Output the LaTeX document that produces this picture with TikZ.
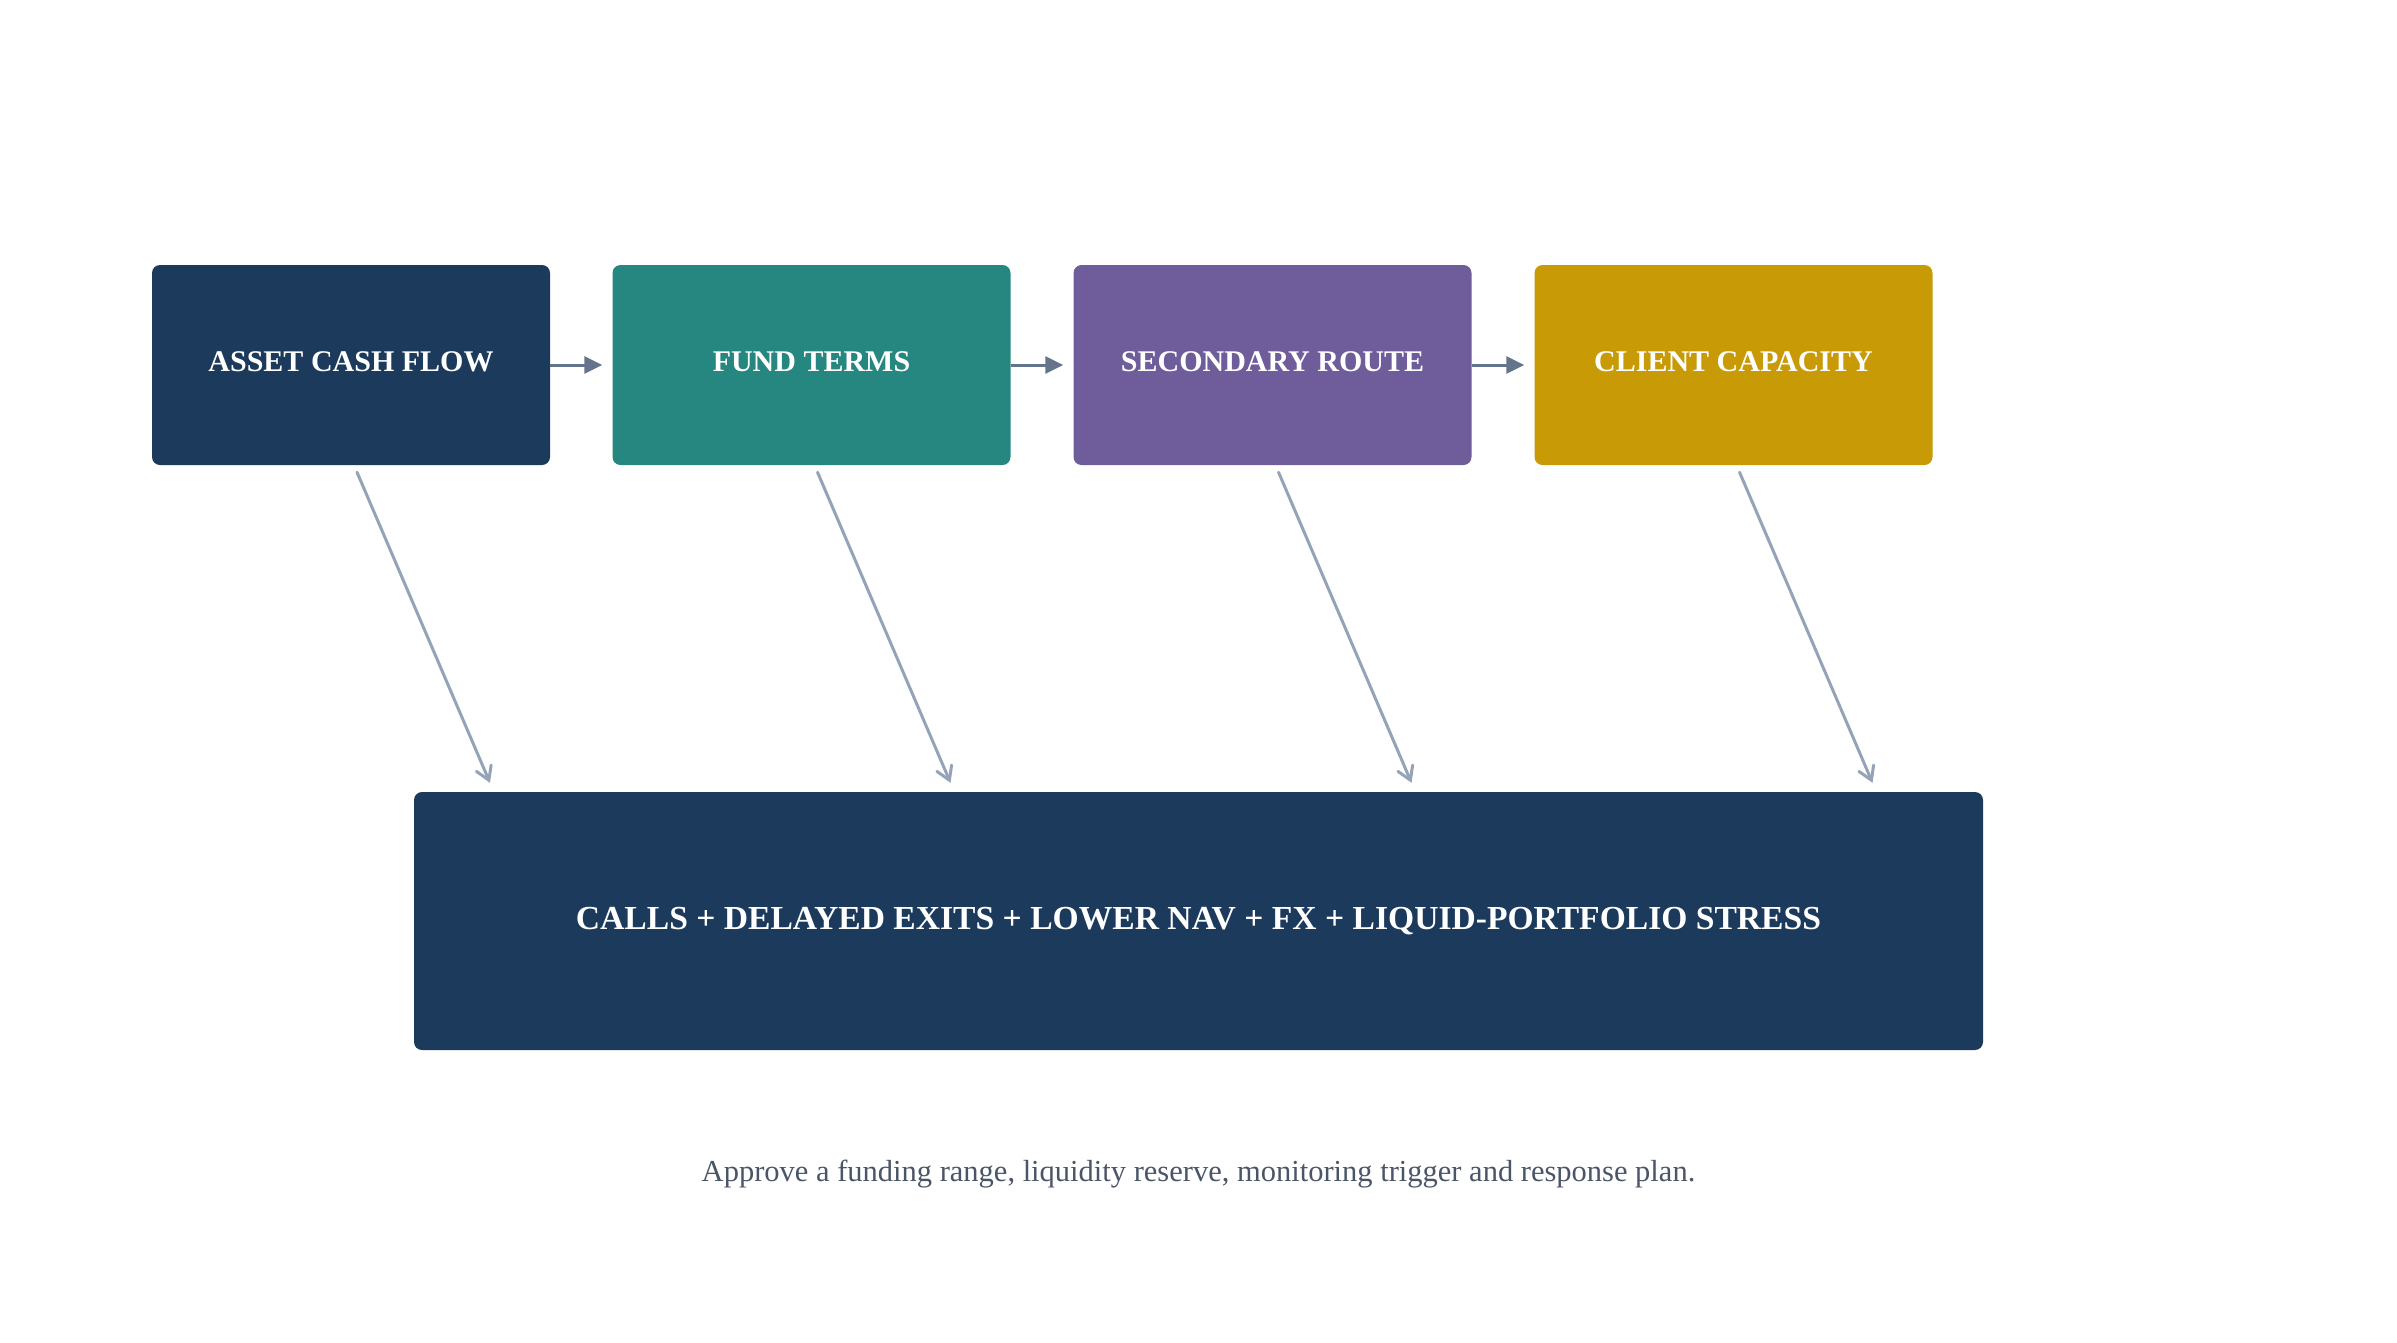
\documentclass[tikz,border=0pt]{standalone}
\usepackage{fontspec}
\setmainfont{Liberation Serif}
\usetikzlibrary{arrows.meta,calc}
\definecolor{navy}{HTML}{1B3A5C}
\definecolor{teal2}{HTML}{268680}
\definecolor{purple2}{HTML}{6F5C9A}
\definecolor{gold2}{HTML}{C89A06}
\definecolor{flowarrow}{HTML}{64748B}
\definecolor{linkarrow}{HTML}{94A3B8}
\definecolor{captioncol}{HTML}{4A5568}
\tikzset{
  stagebox/.style={rectangle, rounded corners=8pt, minimum width=398pt, minimum height=200pt,
    inner sep=0pt, text=white, text depth=6pt, font=\fontsize{30}{36}\selectfont\bfseries},
  resultbox/.style={rectangle, rounded corners=8pt, minimum width=1569pt, minimum height=258pt,
    inner sep=0pt, fill=navy, text=white, text depth=6pt, font=\fontsize{33.6}{40}\selectfont\bfseries},
  flow/.style={draw=flowarrow, line width=3pt, -{Triangle[length=18pt,width=17pt]}, shorten >=10pt},
  link/.style={draw=linkarrow, line width=3pt, line cap=round, -{Straight Barb[length=13pt,width=16pt,line cap=round]}},
}
\begin{document}
\begin{tikzpicture}[x=1pt,y=-1pt]
\useasboundingbox (0,0) rectangle (2397,1342);
\node[stagebox, fill=navy]    (b1) at (351,365)    {ASSET CASH FLOW};
\node[stagebox, fill=teal2]   (b2) at (811.5,365)  {FUND TERMS};
\node[stagebox, fill=purple2] (b3) at (1272.5,365) {SECONDARY ROUTE};
\node[stagebox, fill=gold2]   (b4) at (1733.5,365) {CLIENT CAPACITY};
\node[resultbox] (bot) at (1198.5,921) {CALLS + DELAYED EXITS + LOWER NAV + FX + LIQUID-PORTFOLIO STRESS};
\draw[flow] (b1.east) -- (b2.west);
\draw[flow] (b2.east) -- (b3.west);
\draw[flow] (b3.east) -- (b4.west);
\foreach \b in {b1,b2,b3,b4}{
  \draw[link] ([xshift=6pt,yshift=-7pt]\b.south) -- ([xshift=139pt,yshift=9pt]\b.south |- bot.north);
}
\node[anchor=base, text=captioncol, font=\fontsize{30.5}{36}\selectfont] (cap) at (1198.5,1181)
  {Approve a funding range, liquidity reserve, monitoring trigger and response plan.};
\end{tikzpicture}
\end{document}
